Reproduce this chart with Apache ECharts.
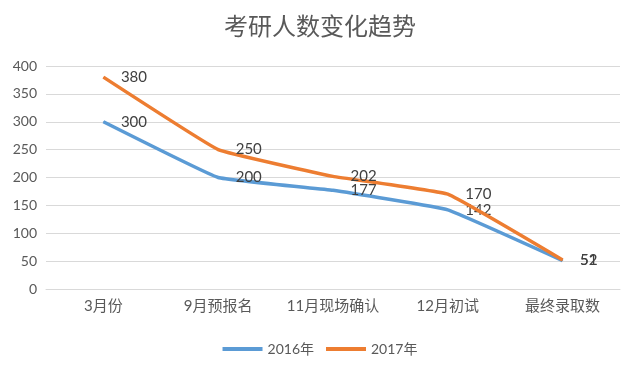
<!DOCTYPE html>
<html><head><meta charset="utf-8">
<script src="https://cdn.jsdelivr.net/npm/echarts@6/dist/echarts.min.js"></script>
<style>html,body{margin:0;padding:0;background:#fff}#c{width:640px;height:373px}</style>
</head><body><div id="c"></div>
<script>
const title = '考研人数变化趋势';
const categories = ['3月份','9月预报名','11月现场确认','12月初试','最终录取数'];
const series2016 = [300, 200, 177, 142, 51];
const series2017 = [380, 250, 202, 170, 52];
const yTicks = {min: 0, max: 400, interval: 50};
const seriesNames = ['2016年','2017年'];

const font = 'Lato, "Noto Sans CJK SC", sans-serif';
const chart = echarts.init(document.getElementById('c'), null, {renderer:'canvas'});
function mk(name, data, color){
  return {
    name, type:'line', data, smooth:0.08, symbol:'circle', symbolSize:1, showSymbol:true,
    lineStyle:{width:3.5, color}, itemStyle:{color},
    label:{show:true, position:'right', distance:17, color:'#404040', fontSize:15, fontFamily:font},
    z: name==='2017年'?3:2
  };
}
chart.setOption({
  animation:false,
  title:{text:title, left:'center', top:9, textStyle:{fontSize:24, fontWeight:'normal', color:'#595959', fontFamily:'"Noto Sans CJK SC", sans-serif'}},
  grid:{left:46, right:20, top:66, bottom:84},
  legend:{data:seriesNames, bottom:12, left:'center', itemWidth:40, itemHeight:4, itemGap:12,
    icon:'rect',
    textStyle:{fontSize:14, color:'#595959', fontFamily:font}},
  xAxis:{type:'category', data:categories, boundaryGap:true,
    axisLine:{show:true, lineStyle:{color:'#d9d9d9'}}, axisTick:{show:false},
    axisLabel:{interval:0, color:'#595959', fontSize:15, margin:10, fontFamily:font}},
  yAxis:{type:'value', min:yTicks.min, max:yTicks.max, interval:yTicks.interval,
    axisLine:{show:false}, axisTick:{show:false},
    splitLine:{lineStyle:{color:'#d9d9d9'}},
    axisLabel:{color:'#595959', fontSize:14, margin:9, fontFamily:font}},
  series:[mk(seriesNames[0], series2016, '#5B9BD5'), mk(seriesNames[1], series2017, '#ED7D31')]
});
</script></body></html>
